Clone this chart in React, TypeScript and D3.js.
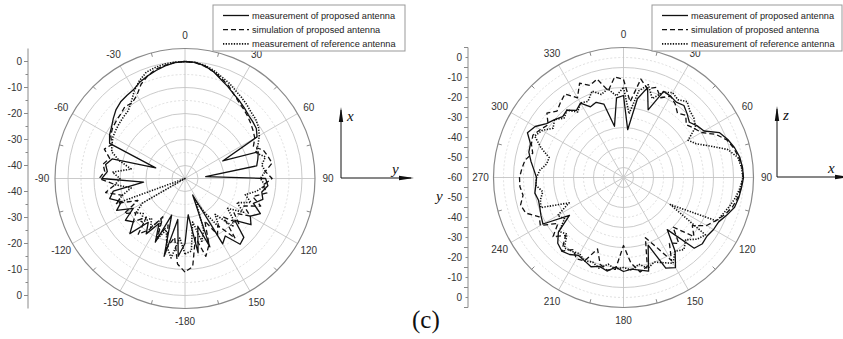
import React from 'react';
import * as d3 from 'd3';

const W = 843;
const H = 339;

// angle categories (degrees, clockwise from top)
const LEFT_ANGLES = [-180,-175,-170,-165,-160,-155,-150,-145,-140,-135,-130,-125,-120,-115,-110,-105,-100,-95,-90,-85,-80,-75,-70,-65,-60,-55,-50,-45,-40,-35,-30,-25,-20,-15,-10,-5,0,5,10,15,20,25,30,35,40,45,50,55,60,65,70,75,80,85,90,95,100,105,110,115,120,125,130,135,140,145,150,155,160,165,170,175];
const RIGHT_ANGLES = [0,5,10,15,20,25,30,35,40,45,50,55,60,65,70,75,80,85,90,95,100,105,110,115,120,125,130,135,140,145,150,155,160,165,170,175,180,185,190,195,200,205,210,215,220,225,230,235,240,245,250,255,260,265,270,275,280,285,290,295,300,305,310,315,320,325,330,335,340,345,350,355];

// left plot (dB)
const LEFT_MEAS_PROPOSED = [-20,-15,-29,-14,-30,-18,-25,-19,-23,-15,-19,-17,-22,-16,-19,-15,-17,-29,-13,-15,-14,-16,-33,-13,-11.5,-10.5,-9,-7.5,-6.5,-6,-5.5,-4,-3,-2,-1,-0.3,0,-0.2,-1,-2.5,-4.5,-6,-7.5,-8.5,-9.5,-10.5,-11,-11.5,-13,-29,-15,-16,-17,-37,-14,-13,-15,-14,-17,-13,-16,-14,-20,-13,-12,-18,-16,-38,-17,-26,-16,-31];
const LEFT_SIM_PROPOSED = [-9,-12,-22,-17,-26,-20,-28,-21,-17,-24,-19,-22,-18,-25,-17,-20,-14,-18,-12,-14,-13,-15,-12,-14,-12,-11,-10.5,-10,-9,-9.5,-8,-5,-3,-1.5,-0.8,-0.2,0,-0.3,-1.2,-2.5,-4,-5.5,-7.5,-9,-10,-11,-12,-13,-14,-16,-13,-12,-11,-14,-11.5,-15,-13,-18,-14,-20,-16,-22,-18,-24,-15,-23,-20,-27,-18,-14,-22,-11];
const LEFT_MEAS_REFERENCE = [-16,-22,-14,-18,-24,-19,-27,-22,-25,-21,-24,-22,-26,-45,-17,-20,-24,-18,-20,-17,-24,-19,-15,-14,-13,-12.5,-12,-11.5,-11,-9,-6,-3.5,-1.5,-0.8,-0.3,-0.1,0,-0.2,-0.8,-2,-3.5,-4.6,-6,-7,-8,-9,-9.5,-10.5,-12,-14,-16,-13,-15,-14,-16,-14,-17,-21,-18,-23,-19,-25,-21,-19,-27,-22,-30,-35,-24,-20,-28,-17];

// right plot (dB)
const RIGHT_MEAS_PROPOSED = [-19,-36,-20,-13.5,-24,-12.5,-13,-14,-13,-15,-17,-15,-13.5,-7,-4.5,-2.5,-1,-0.3,0,-0.8,-1.5,-2.5,-5,-7.5,-8,-9,-8.5,-10,-26,-15,-8,-10,-24,-11.5,-13,-14,-13,-15,-12.5,-14,-12.5,-14,-15,-13,-12,-13.5,-17.5,-27,-13.5,-14.5,-15.5,-16,-15,-16,-16.5,-15,-13,-11,-10.5,-7,-9,-13,-15,-17,-16,-19,-17,-21,-20,-22,-34,-20];
const RIGHT_SIM_PROPOSED = [-11,-22,-10,-14,-12,-16,-13,-15,-18,-16,-19,-17,-15,-9,-5,-3,-1.5,-0.5,-0.2,-1,-2,-3.5,-6,-9,-12,-18,-14,-25,-17,-20,-12,-22,-28,-14,-12,-17,-26,-14,-13,-15,-22,-14,-13,-16,-12,-19,-14,-20,-12,-13.5,-8,-6.7,-9,-8,-8,-9,-10,-13,-11,-10,-12,-14,-10,-13,-11,-9,-14,-8,-11,-9,-16,-9.5];
const RIGHT_MEAS_REFERENCE = [-15,-28,-16,-12,-18,-13,-11,-12.5,-10.5,-13,-14,-16,-22.7,-20,-14,-6,-2,-0.8,-0.3,-1.5,-3,-5,-7,-8.5,-33,-10,-12,-16,-13,-15,-10.5,-13,-15,-13,-16,-13.5,-15,-14,-16,-13,-15,-14,-16,-15,-14,-20,-18,-24,-22,-30,-16,-17,-19,-16,-16.5,-18,-21,-21.5,-16,-11,-13,-17,-15,-18,-16,-20,-17,-18,-14,-17,-15,-19];

const LEFT_RADIAL_TICKS = [0, -10, -20, -30, -40];
const RIGHT_RADIAL_TICKS = [0, -10, -20, -30, -40, -50, -60];
const LEFT_ANGLE_LABELS = ['0', '30', '60', '90', '120', '150', '-180', '-150', '-120', '-90', '-60', '-30'];
const RIGHT_ANGLE_LABELS = ['0', '30', '60', '90', '120', '150', '180', '210', '240', '270', '300', '330'];
const LEGEND_LABELS = ['measurement of proposed antenna', 'simulation of proposed antenna', 'measurement of reference antenna'];

const FONT = 'Liberation Sans, Arial, sans-serif';
const SERIF = 'Liberation Serif, Times New Roman, serif';
const R = 130;

const STYLES = [
  { dash: undefined as string | undefined, width: 1.3 },
  { dash: '5,3', width: 1.3 },
  { dash: '1.3,1.4', width: 1.6 },
];

type PolarProps = {
  cx: number; cy: number; dmin: number; dmax: number;
  radialTicks: number[]; angleLabels: string[]; angles: number[];
  series: number[][]; axisX: number;
};

function Polar({ cx, cy, dmin, dmax, radialTicks, angleLabels, angles, series, axisX }: PolarProps) {
  const r = d3.scaleLinear().domain([dmin, dmax]).range([0, R]).clamp(true);
  const majors = d3.range(dmin + 5, dmax, 10);
  const minors = d3.range(dmin + 10, dmax, 10);
  const spokes = d3.range(0, 360, 30);
  const minorAng = d3.range(15, 360, 30);
  const line = d3.lineRadial<number>()
    .angle((_, i) => (angles[i] * Math.PI) / 180)
    .radius((d) => r(d))
    .curve(d3.curveLinearClosed);
  const axisTicksMajor = d3.range(dmin + 5, dmax + 0.1, 10);
  const axisTicksMinor = d3.range(dmin + 10, dmax, 10);
  const rad = (a: number) => (a * Math.PI) / 180;
  return (
    <g>
      {minors.map((v) => (
        <circle key={'mi' + v} cx={cx} cy={cy} r={r(v)} fill="none" stroke="#d6d6d6" strokeWidth={0.8} strokeDasharray="2,2" />
      ))}
      {majors.map((v) => (
        <circle key={'ma' + v} cx={cx} cy={cy} r={r(v)} fill="none" stroke="#c4c4c4" strokeWidth={0.9} />
      ))}
      {spokes.map((a) => (
        <line key={'s' + a} x1={cx} y1={cy}
          x2={cx + R * Math.sin(rad(a))} y2={cy - R * Math.cos(rad(a))}
          stroke="#c4c4c4" strokeWidth={0.9} />
      ))}
      <circle cx={cx} cy={cy} r={R} fill="none" stroke="#8a8a8a" strokeWidth={1.2} />
      {minorAng.map((a) => (
        <line key={'t' + a}
          x1={cx + R * Math.sin(rad(a))} y1={cy - R * Math.cos(rad(a))}
          x2={cx + (R - 4) * Math.sin(rad(a))} y2={cy - (R - 4) * Math.cos(rad(a))}
          stroke="#8a8a8a" strokeWidth={1} />
      ))}
      {spokes.map((a, i) => (
        <text key={'al' + a} x={cx + 143 * Math.sin(rad(a))} y={cy - 143 * Math.cos(rad(a))}
          textAnchor="middle" dominantBaseline="central" fontFamily={FONT} fontSize={10} fill="#333">
          {angleLabels[i]}
        </text>
      ))}
      <g transform={`translate(${cx},${cy})`}>
        {series.map((s, k) => (
          <path key={'p' + k} d={line(s) || ''} fill="none" stroke="#111" strokeWidth={STYLES[k].width}
            strokeDasharray={STYLES[k].dash} strokeLinejoin="round" />
        ))}
      </g>
      {/* radial axis */}
      <line x1={axisX} x2={axisX} y1={cy - R} y2={cy + R} stroke="#8a8a8a" strokeWidth={1} />
      {axisTicksMajor.map((v) => (
        <g key={'am' + v}>
          <line x1={axisX - 4} x2={axisX} y1={cy - r(v)} y2={cy - r(v)} stroke="#8a8a8a" />
          <line x1={axisX - 4} x2={axisX} y1={cy + r(v)} y2={cy + r(v)} stroke="#8a8a8a" />
        </g>
      ))}
      {axisTicksMinor.map((v) => (
        <g key={'an' + v}>
          <line x1={axisX - 2.5} x2={axisX} y1={cy - r(v)} y2={cy - r(v)} stroke="#8a8a8a" />
          <line x1={axisX - 2.5} x2={axisX} y1={cy + r(v)} y2={cy + r(v)} stroke="#8a8a8a" />
        </g>
      ))}
      {radialTicks.map((v) => {
        const isCenter = v === dmin;
        return (
          <g key={'rl' + v}>
            <text x={axisX - 6} y={cy - r(v)} textAnchor="end" dominantBaseline="central" fontFamily={FONT} fontSize={10} fill="#333">{v}</text>
            {!isCenter && (
              <text x={axisX - 6} y={cy + r(v)} textAnchor="end" dominantBaseline="central" fontFamily={FONT} fontSize={10} fill="#333">{v}</text>
            )}
          </g>
        );
      })}
    </g>
  );
}

function Legend({ x, y, w, h }: { x: number; y: number; w: number; h: number }) {
  return (
    <g>
      <rect x={x} y={y} width={w} height={h} fill="#fff" stroke="#999" strokeWidth={1} />
      {LEGEND_LABELS.map((t, i) => {
        const yy = y + 10.5 + i * 14.2;
        return (
          <g key={t}>
            <line x1={x + 10} x2={x + 36} y1={yy} y2={yy} stroke="#111" strokeWidth={STYLES[i].width}
              strokeDasharray={STYLES[i].dash} />
            <text x={x + 39} y={yy} dominantBaseline="central" fontFamily={FONT} fontSize={9.2} fill="#222">{t}</text>
          </g>
        );
      })}
    </g>
  );
}

function Axes({ x, y, up, right }: { x: number; y: number; up: string; right: string }) {
  return (
    <g>
      <line x1={x} x2={x} y1={y} y2={y - 68} stroke="#111" strokeWidth={1} />
      <path d={`M${x},${y - 71} L${x - 2.2},${y - 56} L${x + 2.2},${y - 56} Z`} fill="#111" />
      <line x1={x} x2={x + 70} y1={y} y2={y} stroke="#111" strokeWidth={1} />
      <path d={`M${x + 73},${y} L${x + 58},${y - 2.2} L${x + 58},${y + 2.2} Z`} fill="#111" />
      <text x={x + 6} y={y - 57} fontFamily={SERIF} fontStyle="italic" fontSize={15} fill="#111">{up}</text>
      <text x={x + 51} y={y - 4} fontFamily={SERIF} fontStyle="italic" fontSize={15} fill="#111">{right}</text>
    </g>
  );
}

export default function App() {
  return (
    <svg width={W} height={H} style={{ position: 'absolute', left: 0, top: 0, background: '#fff' }}>
      <rect width={W} height={H} fill="#fff" />
      <Polar cx={185} cy={178.5} dmin={-45} dmax={5} radialTicks={LEFT_RADIAL_TICKS}
        angleLabels={LEFT_ANGLE_LABELS} angles={LEFT_ANGLES}
        series={[LEFT_MEAS_PROPOSED, LEFT_SIM_PROPOSED, LEFT_MEAS_REFERENCE]} axisX={28} />
      <Polar cx={623.5} cy={177.5} dmin={-60} dmax={5} radialTicks={RIGHT_RADIAL_TICKS}
        angleLabels={RIGHT_ANGLE_LABELS} angles={RIGHT_ANGLES}
        series={[RIGHT_MEAS_PROPOSED, RIGHT_SIM_PROPOSED, RIGHT_MEAS_REFERENCE]} axisX={468} />
      <Legend x={213} y={5} w={192} h={46} />
      <Legend x={652} y={5} w={190} h={46} />
      <Axes x={341} y={178} up="x" right="y" />
      <Axes x={777} y={177} up="z" right="x" />
      <text x={436} y={201} fontFamily={SERIF} fontStyle="italic" fontSize={15} fill="#111">y</text>
      <text x={412} y={328} fontFamily={SERIF} fontSize={25} fill="#111">(c)</text>
    </svg>
  );
}
